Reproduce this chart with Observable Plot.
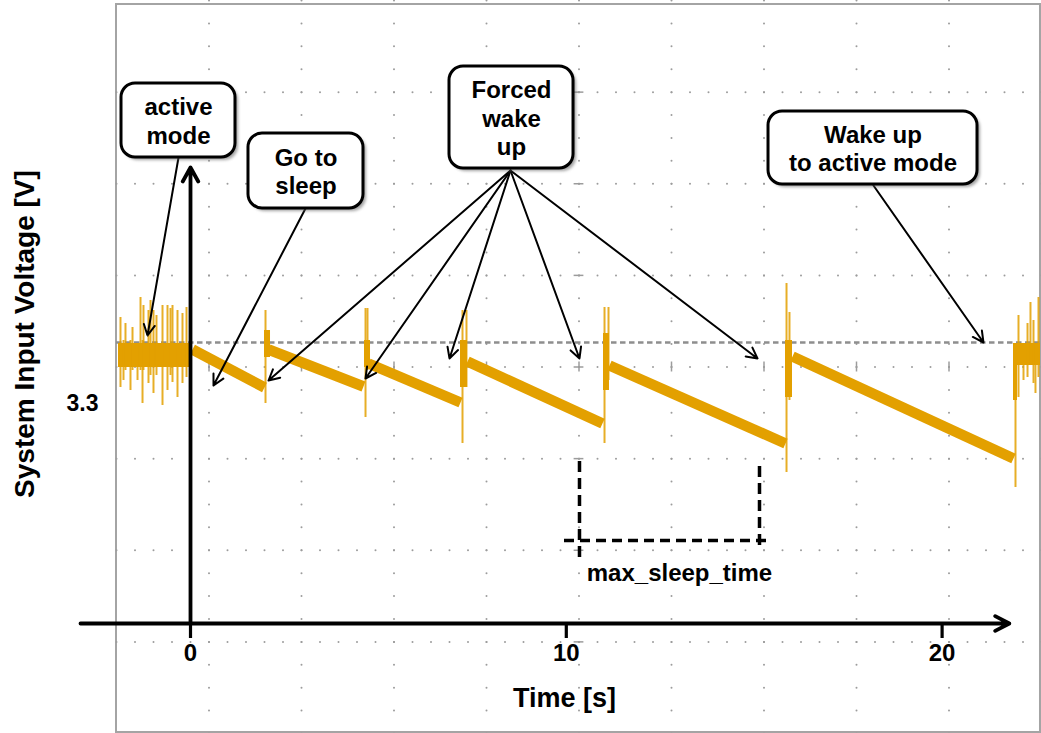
<!DOCTYPE html>
<html>
<head>
<meta charset="utf-8">
<script src="https://cdn.jsdelivr.net/npm/d3@7"></script>
<script src="https://cdn.jsdelivr.net/npm/@observablehq/plot@0.6"></script>
<style>
  body { margin: 0; background: #fff; }
  #chart svg { display: block; }
</style>
</head>
<body>
<div id="chart"></div>
<script>
// ---------------- data (time in s, voltage in V) ----------------
// sleep phases: centre of the slowly falling voltage band
const sleepSegment = ["A","A","B","B","C","C","D","D","E","E","F","F"];
const sleepTime    = [0.053, 1.969, 2.076, 4.603, 4.737, 7.185, 7.371, 10.963, 11.149, 15.833, 16.019, 21.900];
const sleepVolt    = [3.354, 3.316, 3.354, 3.317, 3.340, 3.301, 3.342, 3.280, 3.338, 3.260, 3.347, 3.245];

// active-mode noise band
const activeStart = [-1.916, 21.953];
const activeEnd   = [0.053, 22.618];
const activeLow   = [3.336, 3.338];
const activeHigh  = [3.360, 3.360];

// spikes (active noise + wake-up transients)
const spikeTime = [-1.863,-1.783,-1.730,-1.597,-1.543,-1.410,-1.330,-1.277,-1.251,-1.118,-1.064,-0.985,-0.905,-0.745,-0.612,-0.532,-0.479,-0.346,-0.213,-0.106,
                   1.996, 4.657, 4.710, 7.238, 7.344, 11.017, 11.123, 15.860, 15.939, 21.953,
                   22.033, 22.166, 22.273, 22.352, 22.432, 22.485, 22.565];
const spikeHigh = [3.386,3.363,3.380,3.363,3.376,3.358,3.406,3.363,3.398,3.393,3.403,3.393,3.388,3.398,3.398,3.395,3.398,3.393,3.390,3.396,
                   3.393, 3.395, 3.395, 3.393, 3.393, 3.396, 3.396, 3.420, 3.391, 3.360,
                   3.388, 3.358, 3.380, 3.401, 3.383, 3.358, 3.406];
const spikeLow  = [3.316,3.323,3.333,3.313,3.333,3.323,3.333,3.300,3.333,3.320,3.328,3.310,3.328,3.298,3.313,3.328,3.321,3.306,3.320,3.326,
                   3.300, 3.286, 3.333, 3.260, 3.316, 3.260, 3.323, 3.231, 3.303, 3.216,
                   3.306, 3.323, 3.326, 3.338, 3.320, 3.310, 3.326];

// short thick bursts at each wake-up
const burstStart = [1.969, 4.630, 7.185, 10.990, 15.833, 21.900];
const burstEnd   = [2.129, 4.790, 7.371, 11.149, 16.019, 22.006];
const burstLow   = [3.346, 3.336, 3.316, 3.313, 3.306, 3.303];
const burstHigh  = [3.373, 3.363, 3.363, 3.370, 3.363, 3.360];

// axes
const xTicks = [0, 10, 20];
const yTicks = [3.3];
const xAxisExtent = [-2.927, 21.79];
const yAxisExtent = [3.080, 3.536];

// oscilloscope screen
const screenTime = [-1.969, 22.645];
const screenVolt = [2.970, 3.703];
const screenBorderTime = [-1.969, 22.618];
const screenBorderVolt = [2.971, 3.699];
const triggerVolt = 3.361;

// callouts
const calloutText = ["active\nmode", "Go to\nsleep", "Forced\nwake\nup", "Wake up\nto active mode"];
const calloutT1 = [-1.836, 1.543, 6.892, 15.381];
const calloutT2 = [1.197, 4.603, 10.192, 20.942];
const calloutV1 = [3.546, 3.495, 3.535, 3.519];
const calloutV2 = [3.620, 3.570, 3.637, 3.592];

const pointerT1 = [-0.319, 3.060, 8.515, 8.515, 8.515, 8.515, 8.515, 18.174];
const pointerV1 = [3.546, 3.495, 3.533, 3.533, 3.533, 3.533, 3.533, 3.518];
const pointerT2 = [-1.144, 0.612, 2.076, 4.657, 6.892, 10.351, 15.088, 21.101];
const pointerV2 = [3.368, 3.318, 3.323, 3.325, 3.345, 3.345, 3.345, 3.361];

// max_sleep_time bracket
const bracketVT  = [10.351, 15.141];
const bracketVLo = [3.146, 3.158];
const bracketVHi = [3.245, 3.241];
const bracketHV  = 3.163;
const bracketHT  = [9.952, 15.381];
const bracketLabel = "max_sleep_time";
const bracketLabelPos = [13.012, 3.130];

// ---------------- derived tables ----------------
const ORANGE = "#e3a000";
const GRID = "#9c9c9c";
const sleep = sleepTime.map((t, i) => ({t, v: sleepVolt[i], seg: sleepSegment[i]}));
const active = activeStart.map((s, i) => ({s, e: activeEnd[i], lo: activeLow[i], hi: activeHigh[i]}));
const spikes = spikeTime.map((t, i) => ({t, hi: spikeHigh[i], lo: spikeLow[i]}));
const bursts = burstStart.map((s, i) => ({s, e: burstEnd[i], lo: burstLow[i], hi: burstHigh[i]}));
const callouts = calloutText.map((text, i) => ({text, t1: calloutT1[i], t2: calloutT2[i], v1: calloutV1[i], v2: calloutV2[i]}));
const pointers = pointerT1.map((t1, i) => ({t1, v1: pointerV1[i], t2: pointerT2[i], v2: pointerV2[i]}));

const dT = (screenTime[1] - screenTime[0]);
const dV = (screenVolt[1] - screenVolt[0]);
const gridCols = d3.range(1, 10).map(i => screenTime[0] + i * dT / 10);
const gridRows = d3.range(1, 8).map(j => screenVolt[0] + j * dV / 8);
const dots = [];
for (const t of gridCols) for (let j = 0; j <= 32; j++) dots.push({t, v: screenVolt[0] + j * dV / 32});
for (const v of gridRows) for (let i = 0; i <= 50; i++) dots.push({t: screenTime[0] + i * dT / 50, v});
const centerRow = gridRows[3];
const centerCol = gridCols[4];

const chart = Plot.plot({
  width: 1041,
  height: 733,
  marginLeft: 190,
  marginRight: 0,
  marginTop: 0,
  marginBottom: 110,
  style: {fontFamily: "'Liberation Sans', Arial, sans-serif", fontWeight: "bold", background: "white", color: "black", overflow: "visible"},
  x: {domain: [0, 22.645]},
  y: {domain: [3.080, 3.703]},
  marks: [
    // screen border
    Plot.rect([0], {x1: screenBorderTime[0], x2: screenBorderTime[1], y1: screenBorderVolt[0], y2: screenBorderVolt[1], fill: "none", stroke: "#a4a4a4", strokeWidth: 2}),
    // dotted graticule
    Plot.dot(dots, {x: "t", y: "v", r: 1, fill: GRID, stroke: null}),
    Plot.ruleX(gridCols, {x: d => d, y1: centerRow - 0.005, y2: centerRow + 0.005, stroke: GRID, strokeWidth: 1.5}),
    Plot.ruleY(gridRows, {y: d => d, x1: centerCol - 0.13, x2: centerCol + 0.13, stroke: GRID, strokeWidth: 1.5}),
    // trigger level
    Plot.ruleY([triggerVolt], {x1: screenTime[0], x2: screenTime[1], stroke: "#8e8e8e", strokeWidth: 2.4, strokeDasharray: "5.5,3.5"}),
    // signal
    Plot.rect(active, {x1: "s", x2: "e", y1: "lo", y2: "hi", fill: ORANGE}),
    Plot.ruleX(spikes, {x: "t", y1: "lo", y2: "hi", stroke: ORANGE, strokeWidth: 2, strokeOpacity: 0.85}),
    Plot.rect(bursts, {x1: "s", x2: "e", y1: "lo", y2: "hi", fill: ORANGE}),
    Plot.line(sleep, {x: "t", y: "v", z: "seg", stroke: ORANGE, strokeWidth: 10.5, strokeLinecap: "butt"}),
    // axes
    Plot.arrow([0], {x1: xAxisExtent[0], x2: xAxisExtent[1], y1: yAxisExtent[0], y2: yAxisExtent[0], stroke: "black", strokeWidth: 3.8, headLength: 6.3, headAngle: 55}),
    Plot.arrow([0], {x1: 0, x2: 0, y1: yAxisExtent[0], y2: yAxisExtent[1], stroke: "black", strokeWidth: 3.8, headLength: 6.3, headAngle: 58}),
    Plot.axisX(xTicks, {anchor: "bottom", tickSize: 15, tickPadding: 5, strokeWidth: 3.2, stroke: "black", fontSize: 24, fontWeight: "bold", label: null, tickFormat: d => String(d)}),
    Plot.axisY(yTicks, {anchor: "left", tickSize: 0, tickPadding: 92, fontSize: 23, fontWeight: "bold", label: null, tickFormat: d => d.toFixed(1)}),
    Plot.text(["System Input Voltage [V]"], {frameAnchor: "left", textAnchor: "middle", rotate: -90, dx: -165, dy: 22, fontSize: 28, fontWeight: "bold", fill: "black"}),
    Plot.text(["Time [s]"], {frameAnchor: "bottom", dx: -51.5, dy: 83, fontSize: 27, fontWeight: "bold", fill: "black"}),
    // bracket
    Plot.ruleX(bracketVT, {x: d => d, y1: (d, i) => bracketVLo[i], y2: (d, i) => bracketVHi[i], stroke: "black", strokeWidth: 3.5, strokeDasharray: "11,6"}),
    Plot.ruleY([bracketHV], {x1: bracketHT[0], x2: bracketHT[1], stroke: "black", strokeWidth: 3.5, strokeDasharray: "10,6"}),
    Plot.text([bracketLabel], {x: bracketLabelPos[0], y: bracketLabelPos[1], fontSize: 24, fontWeight: "bold", fill: "black"}),
    // callout pointers
    Plot.arrow(pointers, {x1: "t1", y1: "v1", x2: "t2", y2: "v2", stroke: "black", strokeWidth: 2, headLength: 9, headAngle: 55}),
    // callout boxes
    Plot.rect(callouts, {x1: "t1", x2: "t2", y1: "v1", y2: "v2", rx: 14, fill: "#666", fillOpacity: 0.6, dx: 3, dy: 3, imageFilter: "blur(1.5px)"}),
    Plot.rect(callouts, {x1: "t1", x2: "t2", y1: "v1", y2: "v2", rx: 14, fill: "white", stroke: "black", strokeWidth: 3}),
    Plot.text(callouts, {x: d => (d.t1 + d.t2) / 2, y: d => (d.v1 + d.v2) / 2, text: "text", fontSize: 24, lineHeight: 1.18, lineAnchor: "middle", fontWeight: "bold", fill: "black"})
  ]
});
document.getElementById("chart").append(chart);
</script>
</body>
</html>
